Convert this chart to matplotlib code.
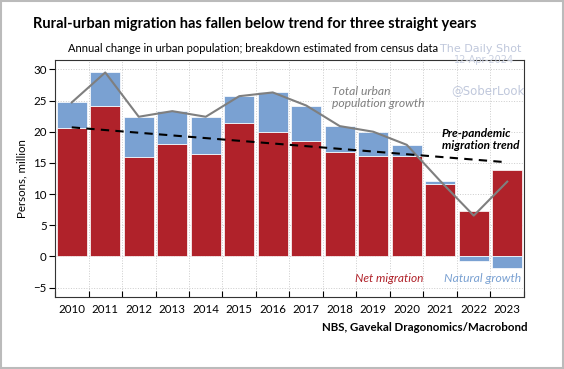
import matplotlib
matplotlib.use('Agg')
import matplotlib.pyplot as plt
import numpy as np

plt.rcParams['font.family'] = ['Lato', 'DejaVu Sans']

years = ['2010', '2011', '2012', '2013', '2014', '2015', '2016',
         '2017', '2018', '2019', '2020', '2021', '2022', '2023']
net_migration = [20.6, 24.2, 16.0, 18.1, 16.4, 21.4, 20.0,
                 18.5, 16.8, 16.1, 16.1, 11.6, 7.3, 13.9]
natural_growth = [4.1, 5.3, 6.4, 5.2, 6.0, 4.3, 6.3,
                  5.7, 4.1, 3.9, 1.8, 0.5, -0.75, -1.9]
trend_years = [0, 13]
trend_values = [20.7, 15.1]

red = '#b0222a'
blue = '#7aa1d2'

x = np.arange(len(years))
net = np.array(net_migration)
nat = np.array(natural_growth)
total = net + nat

fig = plt.figure(figsize=(5.64, 3.69), dpi=100)
ax = fig.add_axes([55 / 564, 1 - 297 / 369, 469 / 564, 237 / 369])

# natural growth stacks on top of migration when positive, below zero when negative
nat_bottom = np.where(nat >= 0, net, 0)
ax.bar(x, net, width=0.9, color=red, edgecolor='white', linewidth=0.5, zorder=2)
ax.bar(x, nat, bottom=nat_bottom, width=0.9, color=blue, edgecolor='white', linewidth=0.5, zorder=2)
ax.plot(x, total, color='#7f7f7f', linewidth=1.5, zorder=3)
ax.plot(trend_years, trend_values, color='black', linestyle=(0, (4, 3)), linewidth=1.5, zorder=4)

ax.set_xlim(-0.5, 13.5)
ax.set_ylim(-6.5, 31.5)
ax.set_yticks(range(-5, 31, 5))
ax.set_xticks(x)
ax.set_xticklabels(years, fontsize=8.3)
ax.set_xticks(np.arange(-0.5, 14, 1), minor=True)
ax.tick_params(axis='x', which='major', length=0, pad=5)
ax.tick_params(axis='x', which='minor', length=4, direction='in', width=0.8)
ax.tick_params(axis='y', labelsize=8.3, length=4, width=0.8, pad=2)
ax.grid(True, which='minor', axis='x', color='#cccccc', linestyle=':', linewidth=0.7, zorder=0)
ax.grid(True, which='major', axis='y', color='#cccccc', linestyle=':', linewidth=0.7, zorder=0)
for s in ax.spines.values():
    s.set_color('#333333')
    s.set_linewidth(0.8)
ax.set_ylabel('Persons, million', fontsize=8.3, labelpad=4)

ax.text(7.77, 27.3, 'Total urban\npopulation growth', color='#7f7f7f', fontsize=8.7,
        style='italic', va='top', linespacing=1.1)
ax.text(11.05, 18.8, 'Pre-pandemic\nmigration trend', color='black', fontsize=8.5,
        style='italic', fontweight='bold', va='center', ha='left', linespacing=1.1)
ax.text(10.49, -3.5, 'Net migration', color=red, fontsize=8.6, style='italic', ha='right', va='center')
ax.text(13.4, -3.5, 'Natural growth', color=blue, fontsize=8.7, style='italic', ha='right', va='center')

fig.text(0.452, 0.935, 'Rural-urban migration has fallen below trend for three straight years',
         ha='center', va='center', fontsize=10.5, fontweight='bold')
fig.text(0.449, 0.868, 'Annual change in urban population; breakdown estimated from census data',
         ha='center', va='center', fontsize=8)
fig.text(0.852, 0.868, 'The Daily Shot', ha='center', va='center', fontsize=8,
         color='#c0c8dc', family='DejaVu Sans')
fig.text(0.936, 0.113, 'NBS, Gavekal Dragonomics/Macrobond', ha='right', va='center',
         fontsize=8.3, fontweight='bold')

fig.text(0.858, 0.837, '12-Apr-2024', ha='center', va='center', fontsize=7,
         color='#c8cfe0', family='DejaVu Sans')
fig.text(0.865, 0.756, '@SoberLook', ha='center', va='center', fontsize=8.5,
         color='#c0c8dc', family='DejaVu Sans')

fig.patches.append(plt.Rectangle((0.002, 0.003), 0.996, 0.994, transform=fig.transFigure,
                                 fill=False, edgecolor='#bbbbbb', linewidth=1.5))

fig.savefig('out.png', dpi=100)
